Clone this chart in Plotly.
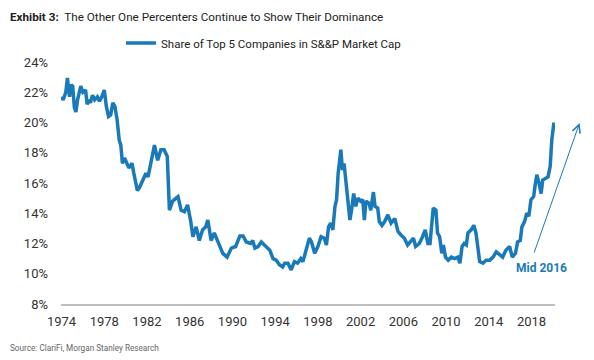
import plotly.graph_objects as go

years = [
    1974.0, 1974.15, 1974.4, 1974.55, 1974.75, 1974.9, 1975.05, 1975.2, 1975.35, 1975.5,
    1975.8, 1976.0, 1976.25, 1976.4, 1976.55, 1976.7, 1976.9, 1977.1, 1977.35, 1977.55,
    1977.8, 1978.0, 1978.2, 1978.4, 1978.6, 1978.8, 1979.0, 1979.2, 1979.4, 1979.55,
    1979.7, 1979.9, 1980.3, 1980.6, 1980.75, 1981.1, 1981.3, 1981.9, 1982.1, 1982.4,
    1982.7, 1983.0, 1983.3, 1983.6, 1983.9, 1984.1, 1984.4, 1984.9, 1985.2, 1985.5,
    1985.8, 1986.1, 1986.3, 1986.6, 1986.9, 1987.2, 1987.5, 1987.7, 1988.0, 1988.3,
    1988.6, 1989.1, 1989.5, 1989.9, 1990.3, 1990.7, 1991.0, 1991.3, 1991.7, 1991.9,
    1992.1, 1992.4, 1992.7, 1993.0, 1993.3, 1993.5, 1993.8, 1994.1, 1994.4, 1994.7,
    1994.9, 1995.2, 1995.5, 1995.8, 1996.1, 1996.4, 1996.6, 1996.9, 1997.2, 1997.4,
    1997.7, 1998.0, 1998.3, 1998.6, 1998.8, 1999.0, 1999.2, 1999.4, 1999.6, 1999.75,
    1999.9, 2000.15, 2000.3, 2000.45, 2000.6, 2000.75, 2001.0, 2001.15, 2001.35, 2001.55,
    2001.75, 2002.0, 2002.2, 2002.35, 2002.5, 2002.8, 2002.95, 2003.2, 2003.35, 2003.6,
    2003.75, 2004.0, 2004.25, 2004.55, 2004.85, 2005.2, 2005.5, 2005.8, 2006.1, 2006.4,
    2006.7, 2006.95, 2007.15, 2007.5, 2007.8, 2008.05, 2008.3, 2008.5, 2008.8, 2009.05,
    2009.2, 2009.4, 2009.6, 2009.75, 2009.95, 2010.2, 2010.5, 2010.8, 2011.1, 2011.3,
    2011.5, 2011.7, 2011.9, 2012.05, 2012.35, 2012.6, 2012.8, 2013.0, 2013.15, 2013.45,
    2013.75, 2014.1, 2014.4, 2014.7, 2015.0, 2015.3, 2015.6, 2015.95, 2016.2, 2016.5,
    2016.7, 2016.95, 2017.1, 2017.35, 2017.55, 2017.75, 2017.95, 2018.2, 2018.35, 2018.5,
    2018.7, 2018.9, 2019.05, 2019.3, 2019.55, 2019.75, 2019.9, 2020.1,
]

share_pct = [
    21.7, 21.5, 22.0, 22.95, 21.7, 22.5, 22.4, 21.0, 20.7, 21.5,
    22.4, 22.0, 22.15, 21.2, 21.5, 21.3, 21.8, 21.5, 21.7, 21.4,
    21.75, 22.15, 21.05, 20.4, 20.5, 21.3, 21.05, 20.2, 18.85, 18.5,
    17.3, 17.65, 17.0, 17.3, 16.7, 15.5, 15.7, 16.65, 16.4, 17.4,
    18.5, 17.5, 18.2, 18.2, 17.75, 14.2, 14.8, 15.1, 14.2, 14.1,
    14.55, 13.45, 12.45, 13.1, 12.2, 12.9, 13.1, 13.55, 12.2, 12.7,
    12.2, 11.35, 11.1, 11.7, 11.8, 12.5, 12.5, 12.1, 12.0, 12.2,
    11.7, 11.8, 12.1, 11.9, 11.7, 11.55, 11.0, 10.9, 10.6, 10.45,
    10.7, 10.7, 10.25, 10.8, 10.7, 11.0, 10.8, 11.55, 12.35, 12.1,
    11.35, 11.8, 12.45, 12.35, 11.9, 13.1, 13.35, 12.9, 14.45, 14.9,
    16.65, 18.2, 16.85, 17.3, 16.2, 14.9, 13.55, 14.2, 15.3, 14.45,
    15.0, 14.8, 14.9, 13.55, 14.8, 14.65, 14.2, 15.4, 14.45, 14.35,
    13.45, 13.2, 13.45, 13.9, 13.35, 13.65, 12.8, 12.55, 12.35, 11.9,
    12.2, 12.35, 11.8, 12.0, 12.45, 12.9, 12.0, 12.0, 14.35, 14.2,
    12.7, 12.45, 11.35, 11.9, 11.1, 10.9, 11.1, 11.0, 11.1, 10.7,
    11.8, 12.0, 11.9, 12.7, 12.9, 13.2, 12.7, 11.35, 10.8, 10.7,
    10.9, 10.9, 11.1, 11.45, 11.25, 11.1, 11.55, 11.8, 11.1, 11.35,
    12.1, 12.2, 13.1, 13.45, 14.0, 13.8, 14.9, 15.1, 15.9, 16.55,
    16.0, 15.3, 16.2, 16.3, 16.4, 17.1, 18.85, 20.0,
]

x_ticks = [1974, 1978, 1982, 1986, 1990, 1994, 1998, 2002, 2006, 2010, 2014, 2018]
y_ticks = [8, 10, 12, 14, 16, 18, 20, 22, 24]
y_tick_labels = [f"{v}%" for v in y_ticks]

series_name = "Share of Top 5 Companies in S&#38;&#38;P Market Cap"
title_bold = "Exhibit 3:"
title_rest = "The Other One Percenters Continue to Show Their Dominance"
source_text = "Source: ClariFi, Morgan Stanley Research"
note_text = "Mid 2016"
note_pos = (2018.9, 10.35)
arrow_tail = (2018.2, 11.3)
arrow_head = (2022.5, 19.97)

BLUE = "#1a7ab9"
FONT = "Roboto, sans-serif"

fig = go.Figure()
fig.add_trace(go.Scatter(
    x=years, y=share_pct, mode="lines", name=series_name,
    line=dict(color=BLUE, width=3.5),
))

fig.update_layout(
    width=594, height=360,
    margin=dict(l=61, r=39, t=62, b=56, autoexpand=False),
    paper_bgcolor="white", plot_bgcolor="white",
    font=dict(family=FONT, color="#333333", size=13),
    showlegend=True,
    legend=dict(
        orientation="h", x=0.1215, xanchor="left", y=1.078, yanchor="middle",
        font=dict(family=FONT, size=11.5, color="#222222"),
        itemwidth=30,
        bgcolor="rgba(0,0,0,0)",
    ),
    xaxis=dict(
        range=[1973.95, 2020.2], tickvals=x_ticks,
        showgrid=False, zeroline=False,
        showline=True, linecolor="#bfbfbf", linewidth=1.5,
        ticks="", ticklabelstandoff=5,
        tickfont=dict(size=13, color="#333333"),
    ),
    yaxis=dict(
        range=[8, 24], tickvals=y_ticks, ticktext=y_tick_labels,
        showgrid=False, zeroline=False, showline=False,
        ticks="", ticklabelstandoff=12,
        tickfont=dict(size=13, color="#333333"),
    ),
)

fig.add_annotation(
    xref="paper", yref="paper", x=-0.108, y=1.186, xanchor="left", yanchor="middle",
    text=f"<b>{title_bold}</b>  {title_rest}", showarrow=False,
    font=dict(size=11.7, color="#222222"),
)
fig.add_annotation(
    xref="paper", yref="paper", x=-0.107, y=-0.182, xanchor="left", yanchor="middle",
    text=source_text, showarrow=False, font=dict(size=8.2, color="#666666"),
)
fig.add_annotation(
    x=note_pos[0], y=note_pos[1], xref="x", yref="y", text=f"<b>{note_text}</b>",
    showarrow=False, font=dict(size=12, color=BLUE),
)
fig.add_annotation(
    x=arrow_head[0], y=arrow_head[1], ax=arrow_tail[0], ay=arrow_tail[1],
    xref="x", yref="y", axref="x", ayref="y", text="",
    showarrow=True, arrowhead=5, arrowsize=1.6, arrowwidth=1, arrowcolor=BLUE,
)

fig.write_html(
    "out.html",
    config={"displayModeBar": False},
    post_script="document.body.style.margin='0';",
)
